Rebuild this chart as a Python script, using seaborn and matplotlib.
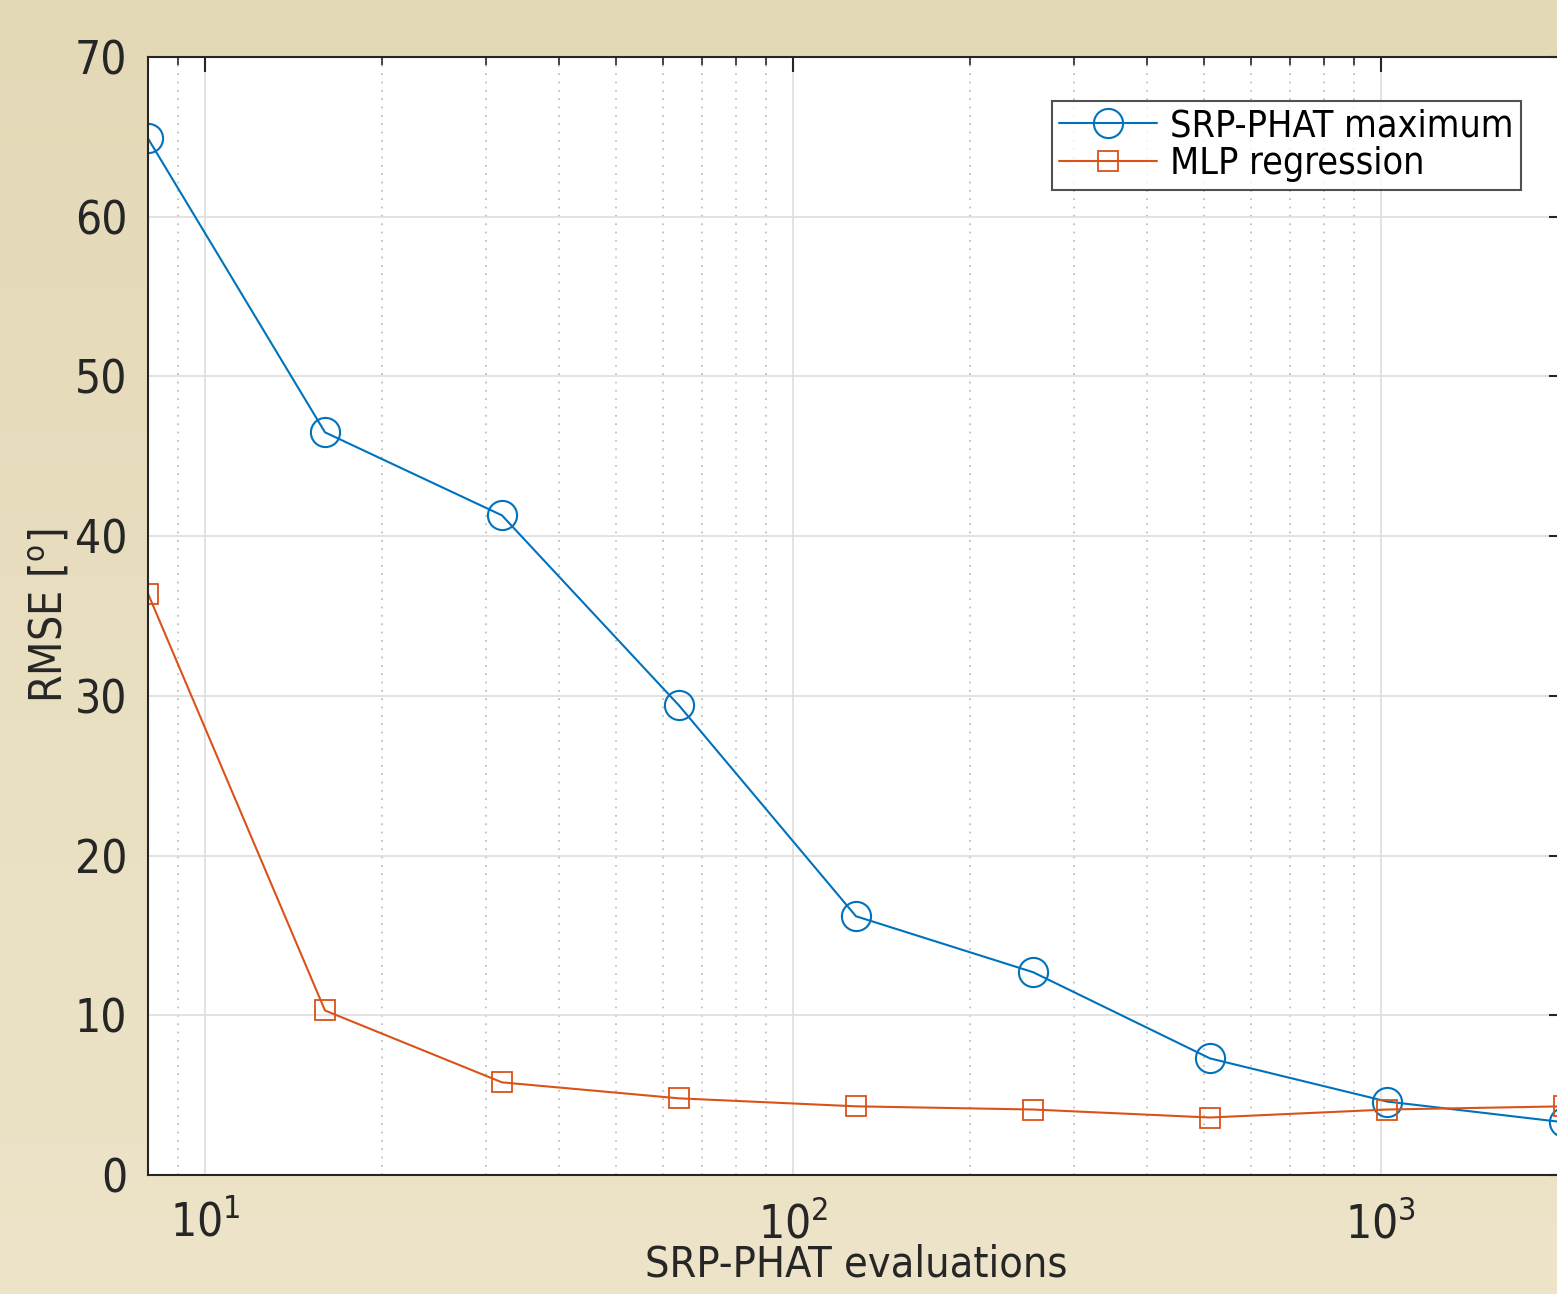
import numpy as np
import pandas as pd
import matplotlib
matplotlib.use("Agg")
import matplotlib.pyplot as plt
import seaborn as sns
from matplotlib.ticker import LogLocator, NullFormatter, FixedLocator
from matplotlib.colors import LinearSegmentedColormap

# data
evaluations = [8, 16, 32, 64, 128, 256, 512, 1024, 2048]
srp_max = [64.9, 46.5, 41.3, 29.4, 16.2, 12.7, 7.3, 4.6, 3.3]
mlp_reg = [36.4, 10.3, 5.8, 4.8, 4.3, 4.1, 3.6, 4.1, 4.3]

df = pd.DataFrame({"evals": evaluations, "srp": srp_max, "mlp": mlp_reg})

sns.set_theme(style="white")
plt.rcParams["font.family"] = ["DejaVu Sans"]
plt.rcParams["font.stretch"] = "condensed"
plt.rcParams["mathtext.fontset"] = "custom"
plt.rcParams["mathtext.rm"] = "DejaVu Sans:stretch=condensed"

bg = "#e8ddbd"
txt = "#262626"
blue = "#0072BD"
orange = "#D95319"

fig = plt.figure(figsize=(15.57, 12.94), dpi=100, facecolor=bg)

# soft beige gradient behind everything
bg_ax = fig.add_axes([0, 0, 1, 1], zorder=-10)
grad = np.linspace(0, 1, 256).reshape(-1, 1)
cmap = LinearSegmentedColormap.from_list("bg", ["#e4d9b7", "#ede4c9"])
bg_ax.imshow(grad, aspect="auto", cmap=cmap, extent=[0, 1, 0, 1], origin="upper")
bg_ax.axis("off")

ax = fig.add_axes([148 / 1557, 1 - 1175 / 1294, (1564 - 148) / 1557, (1175 - 57) / 1294])
ax.set_facecolor("white")

sns.lineplot(data=df, x="evals", y="srp", ax=ax, color=blue, lw=1.5,
             marker="o", markersize=21, markerfacecolor="none",
             markeredgecolor=blue, markeredgewidth=1.5, label="SRP-PHAT maximum")
sns.lineplot(data=df, x="evals", y="mlp", ax=ax, color=orange, lw=1.5,
             marker="s", markersize=14, markerfacecolor="none",
             markeredgecolor=orange, markeredgewidth=1.3, label="MLP regression")

ax.set_xscale("log")
ax.set_xlim(8, 2048)
ax.set_ylim(0, 70)
ax.set_yticks(range(0, 71, 10))
ax.xaxis.set_major_locator(FixedLocator([10, 100, 1000]))
ax.xaxis.set_minor_locator(LogLocator(base=10, subs=np.arange(2, 10)))
ax.xaxis.set_minor_formatter(NullFormatter())
ax.set_xticklabels(["$10^1$", "$10^2$", "$10^3$"])

ax.grid(which="major", color="#dedede", lw=1.2, ls="-")
ax.grid(which="minor", axis="x", color="#b8b8b8", lw=1.2, ls=(0, (1, 4)))
ax.set_axisbelow(True)

ax.tick_params(which="both", direction="in", top=True, right=True, colors=txt,
               labelsize=33)
ax.tick_params(axis="y", pad=15)
ax.tick_params(axis="x", pad=19)
ax.tick_params(which="major", length=11, width=1.5)
ax.tick_params(which="minor", length=6, width=1.2)
for s in ax.spines.values():
    s.set_color(txt)
    s.set_linewidth(1.5)

ax.set_xlabel("SRP-PHAT evaluations", fontsize=31, color=txt, labelpad=-3)
ax.set_ylabel("RMSE [$^{\\mathrm{o}}$]", fontsize=32, color=txt, labelpad=2)

leg = ax.legend(loc="upper right", bbox_to_anchor=((1521 - 148) / 1416, 1 - 44 / 1118),
                fontsize=27, frameon=True, fancybox=False, edgecolor=txt,
                handlelength=2.6, handletextpad=0.35, borderpad=0.2, labelspacing=0.05,
                borderaxespad=0)
leg.get_frame().set_linewidth(1.5)
for t in leg.get_texts():
    t.set_color("black")

fig.savefig("out.png", dpi=100, facecolor=bg)
